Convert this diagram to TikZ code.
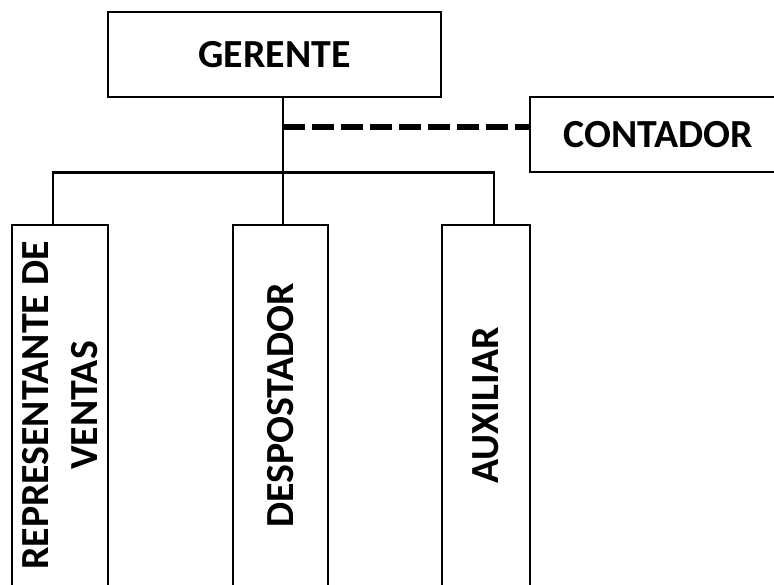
\documentclass[tikz,border=0pt]{standalone}
\usepackage{fontspec}
\setmainfont{Carlito}
\usepackage{tikz}
\usetikzlibrary{calc}

\begin{document}
\begin{tikzpicture}[line width=2.3pt]
    \useasboundingbox (0,0) rectangle (23.22,17.52);
    \clip (0,0) rectangle (23.22,17.52);

    \begin{scope} [every node/.style={draw,rectangle,line width=2.3pt,inner sep=0pt,
            font=\fontsize{34}{42}\selectfont\bfseries}]
        \node[minimum width=9.99cm,minimum height=2.55cm] (gerente) at (8.235,15.885) {GERENTE};
        \node[minimum width=7.68cm,minimum height=2.25cm] (contador) at (19.74,13.485) {CONTADOR};
        \node[rotate=90,align=center,minimum width=10.83cm,minimum height=2.88cm] (ventas) at (1.8,5.355) {REPRESENTANTE DE\\VENTAS};
        \node[rotate=90,minimum width=10.83cm,minimum height=2.85cm] (despostador) at (8.415,5.355) {DESPOSTADOR};
        \node[rotate=90,minimum width=10.83cm,minimum height=2.64cm] (auxiliar) at (14.58,5.355) {AUXILIAR};
    \end{scope}

    \coordinate (izq) at (1.59,12.345);
    \coordinate (der) at (14.82,12.345);
    \coordinate (punteo) at (8.49,13.71);

    \begin{scope}[every path/.style={draw=black}]
        \draw (gerente.south -| punteo) -- (despostador.east -| punteo);
        \draw (ventas.east -| izq) -- (izq) -- (der) -- (auxiliar.east -| der);
        \draw[line width=4.3pt,dash pattern=on 0.66cm off 0.21cm] (punteo) -- (contador.west |- punteo);
    \end{scope}
\end{tikzpicture}
\end{document}
